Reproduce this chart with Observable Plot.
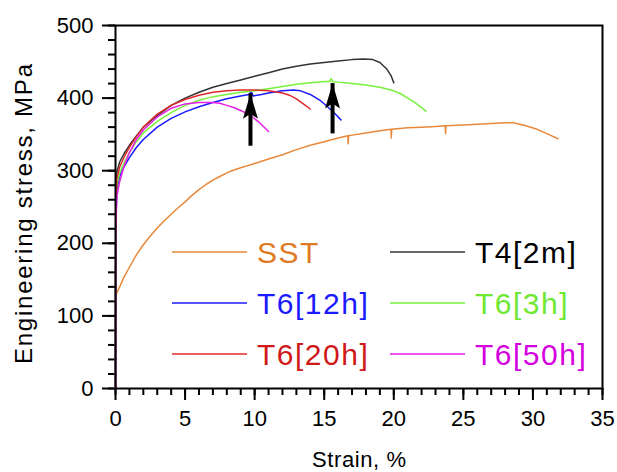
<!DOCTYPE html>
<html>
<head>
<meta charset="utf-8">
<script src="https://cdn.jsdelivr.net/npm/d3@7"></script>
<script src="https://cdn.jsdelivr.net/npm/@observablehq/plot@0.6"></script>
<style>
  html, body { margin: 0; padding: 0; background: #fff; }
  #chart { width: 617px; height: 472px; }
  svg { font-family: "Liberation Sans", Arial, sans-serif; }
</style>
</head>
<body>
<div id="chart"></div>
<script>
// ---- Data (strain %, engineering stress MPa) ----
const seriesNames = ["SST", "T4[2m]", "T6[12h]", "T6[3h]", "T6[20h]", "T6[50h]"];
const lineColors  = ["#e8883a", "#333333", "#1a1aff", "#77f23a", "#e02a2a", "#e61ee6"];
const textColors  = ["#e07a22", "#000000", "#1a1aff", "#6ee830", "#d01818", "#d400e0"];

const sst = [[0,128],[0.3,140],[0.6,153],[1,167],[1.5,184],[2,198],[2.5,210],[3,221],[3.5,231],[4,240],[4.5,249],[5,257],[5.5,266],[6,274],[6.5,281],[7,287],[7.5,292],[8,297],[8.5,301],[9,304],[9.5,307],[10,310],[11,316],[12,322],[13,329],[14,335],[15,340],[16,345],[16.7,348],[16.72,337],[16.75,348],[17,349],[18,352],[19,355],[19.8,357],[19.82,345],[19.85,357],[21,359],[22,360],[23,361],[23.7,362],[23.72,351],[23.75,362],[25,363],[26,364],[27,365],[28,366],[28.6,366],[29.5,362],[30.3,357],[31,351],[31.8,344]];
const t4 = [[0,0],[0.02,260],[0.1,298],[0.3,312],[0.6,323],[1,335],[1.5,348],[2,360],[3,376],[4,390],[5,400],[6,408],[7,415],[8,420],[9,425],[10,430],[11,435],[12,440],[13,444],[14,447],[15,449],[16,451],[17,453],[17.8,454],[18.5,453],[19,449],[19.5,440],[19.8,431],[20.0,421]];
const t6_12h = [[0,0],[0.02,230],[0.1,275],[0.3,292],[0.6,305],[1,318],[1.5,332],[2,343],[3,360],[4,372],[5,381],[6,388],[7,394],[8,399],[9,403],[9.6,405],[9.75,409],[9.9,403],[10.5,405],[11,407],[12,410],[12.8,411],[13.3,410],[14,405],[14.7,397],[15.3,387],[15.8,378],[16.2,370]];
const t6_3h = [[0,0],[0.02,240],[0.1,280],[0.3,297],[0.6,310],[1,325],[1.5,340],[2,352],[3,368],[4,380],[5,390],[6,397],[7,402],[8,405],[9,408],[10,410],[11,413],[12,416],[13,419],[14,421],[15,423],[15.4,423],[15.5,427],[15.6,423],[16,422],[17,420],[18,418],[19,415],[20,410],[20.5,406],[21,400],[21.5,394],[22,387],[22.3,382]];
const t6_20h = [[0,0],[0.02,250],[0.1,290],[0.3,305],[0.6,318],[1,332],[1.5,347],[2,360],[3,378],[4,390],[5,398],[6,404],[7,408],[8,410],[9,411],[10,411],[11,410],[12,407],[12.5,404],[13,399],[13.5,392],[14,385]];
const t6_50h = [[0,0],[0.02,220],[0.1,265],[0.3,285],[0.6,305],[1,325],[1.5,343],[2,356],[3,374],[4,386],[5,392],[6,394],[7,394],[7.5,393],[8,390],[8.5,387],[9,383],[9.7,376],[10.3,367],[11.0,354]];

// arrows: strain, tip stress, tail stress
const arrowStrain = [9.7, 15.6];
const arrowTip    = [406, 420];
const arrowTail   = [353, 370];

const xTicksMajor = [0, 5, 10, 15, 20, 25, 30, 35];
const yTicksMajor = [0, 100, 200, 300, 400, 500];

// ---- Build tables ----
const allSeries = [sst, t4, t6_12h, t6_3h, t6_20h, t6_50h];
const rows = allSeries.flatMap((s, i) => s.map(([strain, stress]) => ({series: seriesNames[i], strain, stress})));
const arrows = arrowStrain.map((x, i) => ({strain: x, tip: arrowTip[i], tail: arrowTail[i]}));

const arrowHead = {
  draw(context) {
    context.moveTo(0, 0);
    context.lineTo(7.5, 25);
    context.lineTo(0, 20);
    context.lineTo(-7.5, 25);
    context.closePath();
  }
};

const font = 22;
const plot = Plot.plot({
  width: 617,
  height: 472,
  marginLeft: 115,
  marginRight: 15,
  marginTop: 25,
  marginBottom: 84,
  style: {fontFamily: '"Liberation Sans", Arial, sans-serif', background: "#fff", color: "#000"},
  x: {domain: [0, 35]},
  y: {domain: [0, 500]},
  color: {domain: seriesNames, range: lineColors},
  marks: [
    Plot.axisX({ticks: d3.range(0, 36, 1), tickSize: 7, text: null, strokeWidth: 2, label: null}),
    Plot.axisX({ticks: xTicksMajor, tickSize: 12, tickPadding: 10, strokeWidth: 2, fontSize: font, label: null}),
    Plot.axisY({ticks: d3.range(0, 501, 20), tickSize: 7, text: null, strokeWidth: 2, label: null}),
    Plot.axisY({ticks: yTicksMajor, tickSize: 13, tickPadding: 9, strokeWidth: 2, fontSize: font, label: null}),
    Plot.line(rows, {x: "strain", y: "stress", z: "series", stroke: "series", strokeWidth: 1.5}),
    Plot.ruleX(arrows, {x: "strain", y1: "tail", y2: "tip", stroke: "#000", strokeWidth: 4, insetTop: 14}),
    Plot.dot(arrows, {x: "strain", y: "tip", symbol: arrowHead, fill: "#000", stroke: "none"}),
    Plot.frame({stroke: "#000", strokeWidth: 2})
  ]
});
document.getElementById("chart").append(plot);

// ---- Titles and in-plot legend ----
const svg = d3.select(plot);
svg.append("text")
  .attr("x", 359).attr("y", 467)
  .attr("text-anchor", "middle")
  .attr("font-size", 22)
  .attr("textLength", 94)
  .attr("fill", "#000")
  .text("Strain, %");
svg.append("text")
  .attr("transform", "translate(32,214) rotate(-90)")
  .attr("text-anchor", "middle")
  .attr("font-size", 24)
  .attr("textLength", 300)
  .attr("fill", "#000")
  .text("Engineering stress, MPa");

const legendX = [172, 390];
const legendY = [252, 303, 354];
const legendOrder = [0, 1, 2, 3, 4, 5];
legendOrder.forEach((k, i) => {
  const col = i % 2, row = Math.floor(i / 2);
  const lx = legendX[col], ly = legendY[row];
  svg.append("line")
    .attr("x1", lx).attr("x2", lx + 75)
    .attr("y1", ly).attr("y2", ly)
    .attr("stroke", lineColors[k]).attr("stroke-width", 1.5);
  svg.append("text")
    .attr("x", lx + 85).attr("y", ly + 10.5)
    .attr("text-anchor", "start")
    .attr("font-size", 30)
    .attr("letter-spacing", 1.5)
    .attr("fill", textColors[k])
    .text(seriesNames[k]);
});
</script>
</body>
</html>
